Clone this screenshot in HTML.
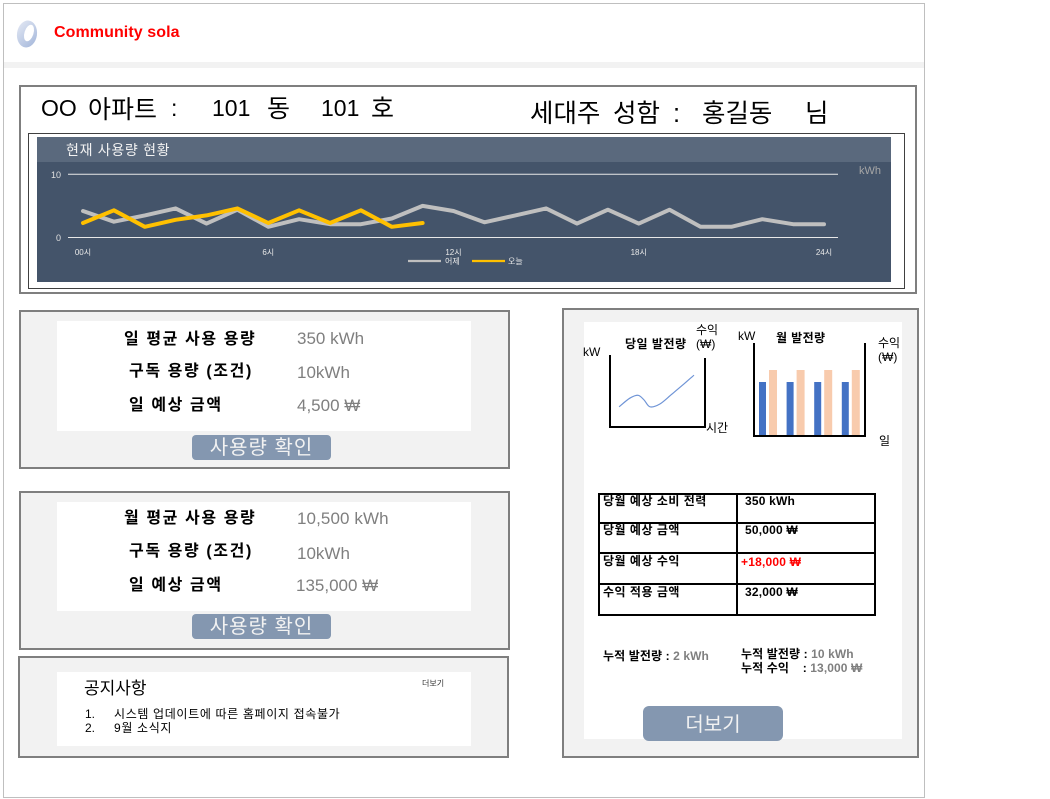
<!DOCTYPE html>
<html lang="ko">
<head>
<meta charset="utf-8">
<title>Community sola</title>
<style>
html,body{margin:0;padding:0;background:#fff;}
body{width:1050px;height:799px;position:relative;overflow:hidden;font-family:"Liberation Sans","Noto Sans CJK KR",sans-serif;color:#000;}
.a{position:absolute;box-sizing:border-box;}
.t{position:absolute;white-space:pre;line-height:1;}
.panel{position:absolute;box-sizing:border-box;background:#f2f2f2;border:2px solid #7f7f7f;}
.w{position:absolute;background:#fff;}
.btn{position:absolute;background:#8497b0;color:#f2f2f2;text-align:center;border-radius:4px;white-space:pre;}
.g{color:#7f7f7f;}
.lbl{font-size:16px;font-weight:700;letter-spacing:1.6px;}
.val{font-size:17px;color:#7f7f7f;}
.cell{font-size:12px;font-weight:700;letter-spacing:.5px;}
.cv{font-size:12px;font-weight:700;letter-spacing:.2px;}
.cum{font-size:12px;font-weight:700;letter-spacing:.1px;}
.ax{font-size:12px;}
.h1{font-size:25px;}
.h2{font-size:25.5px;}
svg{position:absolute;overflow:visible;}
</style>
</head>
<body>
<div class="a" style="left:3px;top:3px;width:922px;height:795px;border:1px solid #bfbfbf;"></div>
<div class="a" style="left:4px;top:62px;width:920px;height:6px;background:#f2f2f2;"></div>

<svg style="left:14px;top:18px;" width="26" height="32" viewBox="0 0 26 32">
<defs><linearGradient id="lg" x1="0" y1="0" x2="1" y2="1"><stop offset="0" stop-color="#e4e9f4"/><stop offset="1" stop-color="#a3b6da"/></linearGradient></defs>
<ellipse cx="13" cy="16" rx="10" ry="13.5" transform="rotate(8 13 16)" fill="url(#lg)"/>
<ellipse cx="15" cy="15" rx="4.5" ry="8.5" transform="rotate(18 15 15)" fill="#fff"/>
</svg>
<div class="t" style="left:54px;top:25px;font-size:16px;font-weight:700;color:#f00;letter-spacing:.08px;">Community sola</div>

<div class="a" style="left:19px;top:85px;width:898px;height:209px;border:2px solid #7f7f7f;background:#fff;"></div>
<div class="t" style="left:41px;top:97px;font-size:23px;">OO</div>
<div class="t h1" style="left:88px;top:98px;">아파트</div>
<div class="t" style="left:171px;top:97px;font-size:23px;">:</div>
<div class="t" style="left:212px;top:97px;font-size:23px;">101</div>
<div class="t h1" style="left:267px;top:97px;">동</div>
<div class="t" style="left:321px;top:97px;font-size:23px;">101</div>
<div class="t h1" style="left:371px;top:97px;">호</div>
<div class="t h2" style="left:530px;top:102px;">세대주</div>
<div class="t h2" style="left:613px;top:102px;">성함</div>
<div class="t h2" style="left:673px;top:102px;">:</div>
<div class="t h2" style="left:702px;top:102px;">홍길동</div>
<div class="t h2" style="left:805px;top:102px;">님</div>

<div class="a" style="left:28px;top:133px;width:877px;height:156px;border:1px solid #404040;"></div>
<div class="a" style="left:37px;top:137px;width:854px;height:145px;background:#44546a;"></div>
<div class="a" style="left:37px;top:137px;width:854px;height:25px;background:#5a697d;"></div>
<div class="t" style="left:66px;top:143px;font-size:14px;letter-spacing:.7px;color:#f2f2f2;">현재 사용량 현황</div>
<svg id="usage" style="left:0;top:0;" width="1050" height="300"></svg>

<div class="panel" style="left:19px;top:310px;width:491px;height:159px;"></div>
<div class="w" style="left:57px;top:321px;width:414px;height:110px;"></div>
<div class="t lbl" style="left:124px;top:332px;">일 평균 사용 용량</div>
<div class="t lbl" style="left:129px;top:364px;">구독 용량 (조건)</div>
<div class="t lbl" style="left:129px;top:398px;">일 예상 금액</div>
<div class="t val" style="left:297px;top:330px;">350 kWh</div>
<div class="t val" style="left:297px;top:364px;">10kWh</div>
<div class="t val" style="left:297px;top:397px;">4,500 ₩</div>
<div class="btn" style="left:192px;top:435px;width:139px;height:25px;line-height:27px;font-size:20px;letter-spacing:1px;">사용량 확인</div>

<div class="panel" style="left:19px;top:491px;width:491px;height:159px;"></div>
<div class="w" style="left:57px;top:502px;width:414px;height:109px;"></div>
<div class="t lbl" style="left:124px;top:511px;">월 평균 사용 용량</div>
<div class="t lbl" style="left:129px;top:544px;">구독 용량 (조건)</div>
<div class="t lbl" style="left:129px;top:578px;">일 예상 금액</div>
<div class="t val" style="left:297px;top:510px;letter-spacing:.1px;">10,500 kWh</div>
<div class="t val" style="left:297px;top:545px;">10kWh</div>
<div class="t val" style="left:296px;top:577px;">135,000 ₩</div>
<div class="btn" style="left:192px;top:614px;width:139px;height:25px;line-height:27px;font-size:20px;letter-spacing:1px;">사용량 확인</div>

<div class="panel" style="left:18px;top:656px;width:491px;height:102px;"></div>
<div class="w" style="left:57px;top:672px;width:414px;height:74px;"></div>
<div class="t" style="left:84px;top:680px;font-size:17px;">공지사항</div>
<div class="t" style="left:422px;top:680px;font-size:8px;color:#333;">더보기</div>
<div class="t" style="left:85px;top:708px;font-size:12px;">1.</div>
<div class="t" style="left:114px;top:708px;font-size:12px;letter-spacing:.65px;">시스템 업데이트에 따른 홈페이지 접속불가</div>
<div class="t" style="left:85px;top:722px;font-size:12px;">2.</div>
<div class="t" style="left:114px;top:722px;font-size:12px;letter-spacing:.65px;">9월 소식지</div>

<div class="panel" style="left:562px;top:308px;width:357px;height:450px;"></div>
<div class="w" style="left:584px;top:322px;width:318px;height:417px;"></div>

<div class="t" style="left:625px;top:338px;font-size:12px;font-weight:700;letter-spacing:.5px;">당일 발전량</div>
<div class="t ax" style="left:583px;top:346px;">kW</div>
<div class="t ax" style="left:696px;top:324px;">수익</div>
<div class="t ax" style="left:696px;top:338px;">(₩)</div>
<div class="t ax" style="left:706px;top:422px;">시간</div>
<svg id="dailyGen" style="left:0;top:0;" width="1050" height="450"></svg>

<div class="t" style="left:776px;top:332px;font-size:12px;font-weight:700;letter-spacing:.4px;">월 발전량</div>
<div class="t ax" style="left:738px;top:330px;">kW</div>
<div class="t ax" style="left:878px;top:337px;">수익</div>
<div class="t ax" style="left:878px;top:351px;">(₩)</div>
<div class="t ax" style="left:879px;top:435px;">일</div>
<svg id="monthlyGen" style="left:0;top:0;" width="1050" height="450"></svg>

<div class="a" style="left:598px;top:493px;width:278px;height:123px;border:2px solid #000;"></div>
<div class="a" style="left:736px;top:493px;width:2px;height:123px;background:#000;"></div>
<div class="a" style="left:598px;top:522px;width:278px;height:2px;background:#000;"></div>
<div class="a" style="left:598px;top:552px;width:278px;height:2px;background:#000;"></div>
<div class="a" style="left:598px;top:583px;width:278px;height:2px;background:#000;"></div>
<div class="t cell" style="left:603px;top:495px;">당월 예상 소비 전력</div>
<div class="t cv" style="left:745px;top:495px;">350 kWh</div>
<div class="t cell" style="left:603px;top:524px;">당월 예상 금액</div>
<div class="t cv" style="left:745px;top:524px;">50,000 ₩</div>
<div class="t cell" style="left:603px;top:555px;">당월 예상 수익</div>
<div class="t cv" style="left:741px;top:556px;color:#f00;">+18,000 ₩</div>
<div class="t cell" style="left:603px;top:586px;">수익 적용 금액</div>
<div class="t cv" style="left:745px;top:586px;">32,000 ₩</div>

<div class="t cum" style="left:603px;top:650px;">누적 발전량 : <span class="g">2 kWh</span></div>
<div class="t cum" style="left:741px;top:648px;">누적 발전량 : <span class="g">10 kWh</span></div>
<div class="t cum" style="left:741px;top:662px;">누적 수익    : <span class="g">13,000 ₩</span></div>
<div class="btn" style="left:643px;top:706px;width:140px;height:35px;line-height:39px;font-size:20px;border-radius:6px;">더보기</div>

<script>
var SVGNS = 'http://www.w3.org/2000/svg';

// Usage chart data
var usageHours = [0,1,2,3,4,5,6,7,8,9,10,11,12,13,14,15,16,17,18,19,20,21,22,23,24];
var yesterdayUsage = [4.2,2.5,3.5,4.6,2.2,4.4,1.7,2.9,2.1,2.1,3,5,4.2,2.4,3.5,4.6,2.2,4.4,2.2,4.4,1.7,1.7,2.9,2.1,2.1];
var todayUsage = [2.3,4.3,1.7,2.8,3.5,4.6,2.3,4.3,2.3,4.3,1.7,2.3];
var usageYTicks = [0,10];
var usageXTicks = [0,6,12,18,24];
var usageXLabels = ['00시','6시','12시','18시','24시'];
var usageLegend = ['어제','오늘'];

// Daily generation data
var dayGenHours = [2.3,5,7.1,8.6,10.1,12.6,15.7,18.7,21.2];
var dayGenValues = [2.8,4,4.4,3.75,2.8,3.2,4.6,6,7.2];

// Monthly generation data
var monthGroups = [0,1,2,3];
var monthGeneration = [4.5,4.5,4.5,4.5];
var monthProfit = [5.5,5.5,5.5,5.5];

function el(parent, tag, attrs, text) {
  var n = document.createElementNS(SVGNS, tag);
  for (var k in attrs) n.setAttribute(k, attrs[k]);
  if (text !== undefined) n.textContent = text;
  parent.appendChild(n);
  return n;
}

// ---- usage chart
var usage = document.getElementById('usage');
function ux(h) { return 83 + h * (741 / 24); }
function uy(v) { return 237.5 - v * 6.32; }

usageYTicks.forEach(function (v) {
  var line = el(usage, 'line', {x1: 68, x2: 838, y1: uy(v), y2: uy(v), stroke: '#e8e8e8', 'stroke-width': 1});
  
  
  var lab = el(usage, 'text', {x: 61, y: uy(v) + 3.5, 'text-anchor': 'end', 'font-size': 9, fill: '#e0e0e0'}, String(v));
  
  
});
usageXTicks.forEach(function (h, i) {
  var lab = el(usage, 'text', {x: ux(h), y: 255, 'text-anchor': 'middle', 'font-size': 8, fill: '#e8e8e8'}, usageXLabels[i]);
  
  
});
var unitLabel = el(usage, 'text', {x: 859, y: 174, 'font-size': 11, fill: '#a6a6a6'}, 'kWh');



function pathFrom(values) {
  return values.map(function (v, i) {
    return (i ? 'L' : 'M') + ux(usageHours[i]).toFixed(1) + ' ' + uy(v).toFixed(1);
  }).join(' ');
}
var yesterdayLine = el(usage, 'path', {d: pathFrom(yesterdayUsage), fill: 'none', stroke: '#bfbfbf', 'stroke-width': 4, 'stroke-linecap': 'round', 'stroke-linejoin': 'round'});


var todayLine = el(usage, 'path', {d: pathFrom(todayUsage), fill: 'none', stroke: '#ffc000', 'stroke-width': 4, 'stroke-linecap': 'round', 'stroke-linejoin': 'round'});



var legendA = el(usage, 'line', {x1: 408, x2: 441, y1: 261, y2: 261, stroke: '#bfbfbf', 'stroke-width': 2.2});


var legendAText = el(usage, 'text', {x: 445, y: 264, 'font-size': 8, fill: '#e8e8e8'}, usageLegend[0]);


var legendB = el(usage, 'line', {x1: 472, x2: 505, y1: 261, y2: 261, stroke: '#ffc000', 'stroke-width': 2.2});


var legendBText = el(usage, 'text', {x: 508, y: 264, 'font-size': 8, fill: '#e8e8e8'}, usageLegend[1]);



// ---- daily generation chart
var dayG = document.getElementById('dailyGen');
function dx(h) { return 610 + h * 3.96; }
function dy(v) { return 427 - v * 7.2; }
var dayAxes = el(dayG, 'path', {d: 'M610 355 V427 H705 V358', fill: 'none', stroke: '#000', 'stroke-width': 2});


function smoothPath(xs, ys) {
  var d = 'M' + xs[0] + ' ' + ys[0];
  for (var i = 0; i < xs.length - 1; i++) {
    var x0 = xs[Math.max(i - 1, 0)], y0 = ys[Math.max(i - 1, 0)];
    var x3 = xs[Math.min(i + 2, xs.length - 1)], y3 = ys[Math.min(i + 2, ys.length - 1)];
    d += ' C' + (xs[i] + (xs[i + 1] - x0) / 6).toFixed(1) + ' ' + (ys[i] + (ys[i + 1] - y0) / 6).toFixed(1) + ' ' +
      (xs[i + 1] - (x3 - xs[i]) / 6).toFixed(1) + ' ' + (ys[i + 1] - (y3 - ys[i]) / 6).toFixed(1) + ' ' +
      xs[i + 1].toFixed(1) + ' ' + ys[i + 1].toFixed(1);
  }
  return d;
}
var dayCurve = el(dayG, 'path', {d: smoothPath(dayGenHours.map(dx), dayGenValues.map(dy)), fill: 'none', stroke: '#6f94d6', 'stroke-width': 1.2});



// ---- monthly generation chart
var monG = document.getElementById('monthlyGen');
function mx(g) { return 759 + g * 27.6; }
function my(v) { return 436 - v * 12; }
monthGroups.forEach(function (g, i) {
  var b = el(monG, 'rect', {x: mx(g), y: my(monthGeneration[i]), width: 7, height: 436 - my(monthGeneration[i]), fill: '#4472c4'});
  
  
  var p = el(monG, 'rect', {x: mx(g) + 10, y: my(monthProfit[i]), width: 8, height: 436 - my(monthProfit[i]), fill: '#f8cbad'});
  
  
});
var monAxes = el(monG, 'path', {d: 'M754 343 V436 H865 V343', fill: 'none', stroke: '#000', 'stroke-width': 2});


</script>
</body>
</html>
